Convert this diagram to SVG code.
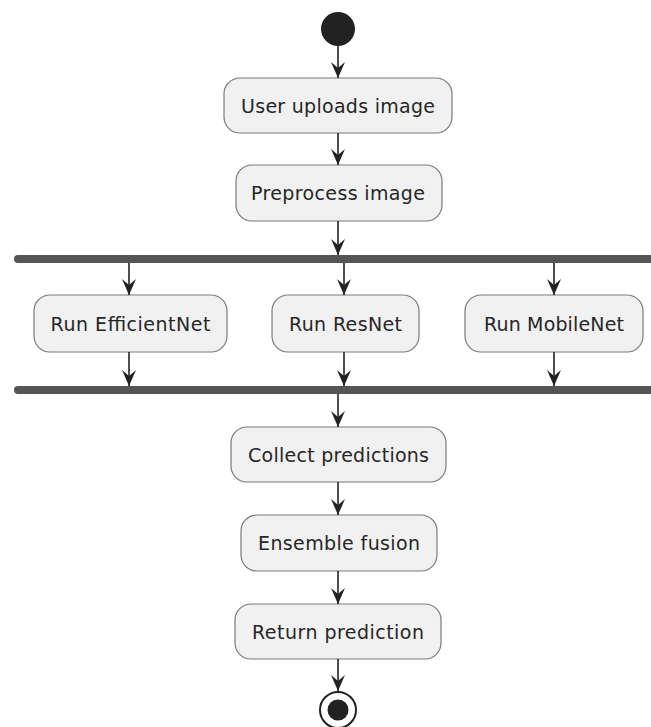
<svg xmlns="http://www.w3.org/2000/svg" width="651" height="727" viewBox="0 0 651 727">
<style>
.node rect{fill:#F1F1F1;stroke:#7a7a7a;stroke-width:1.2}
.node text{font-family:"DejaVu Sans",sans-serif;font-size:19px;fill:#262626;text-anchor:middle}
.edge line{stroke:#222;stroke-width:1.6}
.bar{fill:#555}
</style>
<defs>
<marker id="ah" markerUnits="userSpaceOnUse" markerWidth="16" markerHeight="14" viewBox="0 0 16 14" refX="16" refY="7" orient="auto">
<path d="M0,0 L16,7 L0,14 L6,7 Z" fill="#222"/>
</marker>
</defs>
<rect width="651" height="727" fill="#fff"/>
<g id="start"><circle cx="338" cy="29" r="17" fill="#222"/></g>
<g id="n1" class="node"><rect x="224" y="78" width="228" height="55" rx="16"/><text x="338" y="113" textLength="194" lengthAdjust="spacing">User uploads image</text></g>
<g id="n2" class="node"><rect x="236" y="165" width="206" height="56" rx="16"/><text x="338" y="200" textLength="174" lengthAdjust="spacing">Preprocess image</text></g>
<g id="fork"><rect class="bar" x="14" y="255" width="660" height="8" rx="4"/></g>
<g id="n3" class="node"><rect x="34" y="295" width="193" height="57" rx="16"/><text x="130.5" y="331" textLength="160" lengthAdjust="spacing">Run EfficientNet</text></g>
<g id="n4" class="node"><rect x="272" y="295" width="147" height="57" rx="16"/><text x="345.5" y="331" textLength="113" lengthAdjust="spacing">Run ResNet</text></g>
<g id="n5" class="node"><rect x="465" y="295" width="178" height="57" rx="16"/><text x="554" y="331" textLength="140" lengthAdjust="spacing">Run MobileNet</text></g>
<g id="join"><rect class="bar" x="14" y="386" width="660" height="8" rx="4"/></g>
<g id="n6" class="node"><rect x="231" y="427" width="215" height="55" rx="16"/><text x="338.5" y="462" textLength="181" lengthAdjust="spacing">Collect predictions</text></g>
<g id="n7" class="node"><rect x="241" y="515" width="196" height="56" rx="16"/><text x="339" y="550" textLength="162" lengthAdjust="spacing">Ensemble fusion</text></g>
<g id="n8" class="node"><rect x="235" y="604" width="206" height="55" rx="16"/><text x="338" y="639" textLength="172" lengthAdjust="spacing">Return prediction</text></g>
<g id="end"><circle cx="338" cy="710" r="18" fill="#fff" stroke="#222" stroke-width="2"/><circle cx="338" cy="710" r="10.5" fill="#222"/></g>
<g id="connectors" class="edge">
<line x1="338" y1="46" x2="338" y2="78" marker-end="url(#ah)"/>
<line x1="338" y1="133" x2="338" y2="165" marker-end="url(#ah)"/>
<line x1="338" y1="221" x2="338" y2="255" marker-end="url(#ah)"/>
<line x1="129" y1="263" x2="129" y2="295" marker-end="url(#ah)"/>
<line x1="344" y1="263" x2="344" y2="295" marker-end="url(#ah)"/>
<line x1="554" y1="263" x2="554" y2="295" marker-end="url(#ah)"/>
<line x1="129" y1="352" x2="129" y2="386" marker-end="url(#ah)"/>
<line x1="344" y1="352" x2="344" y2="386" marker-end="url(#ah)"/>
<line x1="554" y1="352" x2="554" y2="386" marker-end="url(#ah)"/>
<line x1="338" y1="394" x2="338" y2="427" marker-end="url(#ah)"/>
<line x1="338" y1="482" x2="338" y2="515" marker-end="url(#ah)"/>
<line x1="338" y1="571" x2="338" y2="604" marker-end="url(#ah)"/>
<line x1="338" y1="659" x2="338" y2="691" marker-end="url(#ah)"/>
</g>
</svg>
